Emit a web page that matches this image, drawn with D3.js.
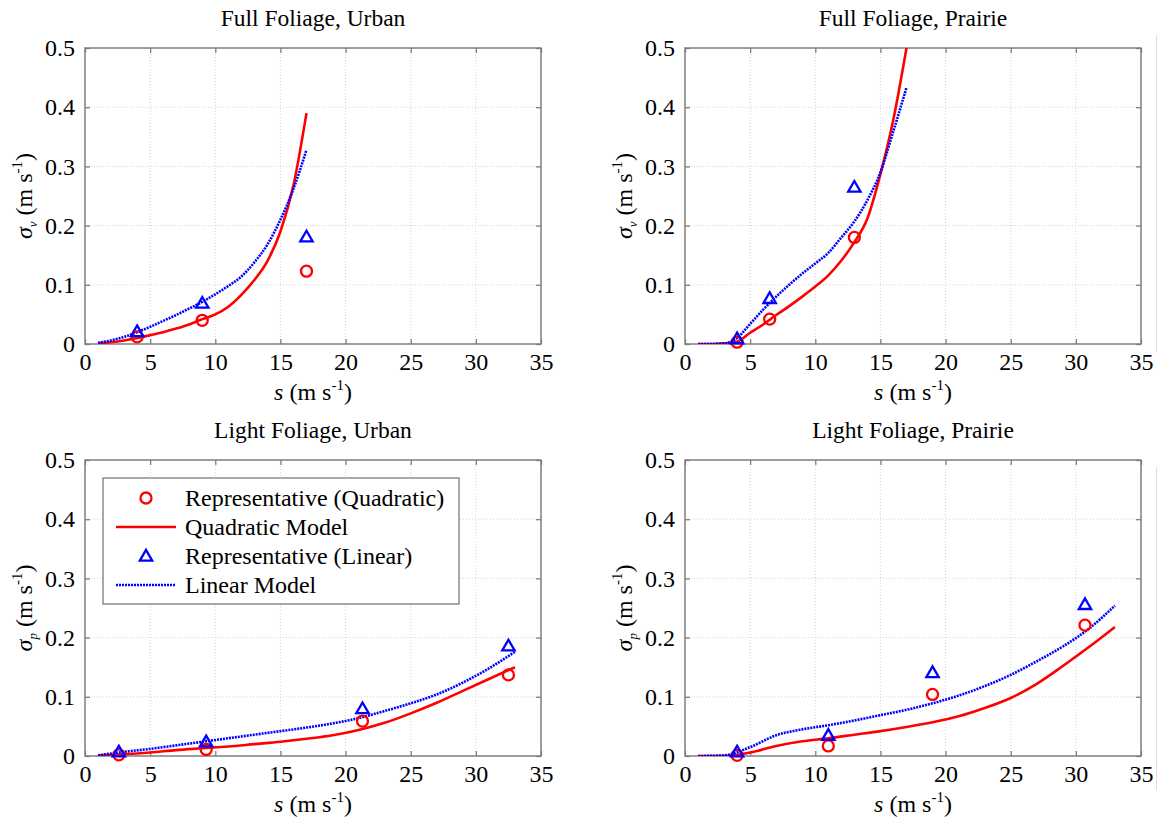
<!DOCTYPE html>
<html>
<head>
<meta charset="utf-8">
<script src="https://cdn.jsdelivr.net/npm/d3@7"></script>
<style>
  body { margin: 0; background: #fff; }
  svg text { font-family: "Liberation Serif", "DejaVu Serif", serif; fill: #000; }
</style>
</head>
<body>
<div id="chart"></div>
<script>
// model curves, wind speed s (m s-1)
const sFull = [1, 2, 3, 4, 5, 6, 7, 8, 9, 10, 11, 12, 13, 14, 15, 16, 17];
const sLight = [1, 3, 5, 7, 9, 11, 13, 15, 17, 19, 21, 23, 25, 27, 29, 31, 33];

const ffuQuad = [0.001, 0.003, 0.006, 0.010, 0.015, 0.020, 0.026, 0.033, 0.042, 0.050, 0.063, 0.083, 0.108, 0.140, 0.190, 0.268, 0.390];
const ffuLin = [0.002, 0.006, 0.012, 0.020, 0.029, 0.039, 0.049, 0.060, 0.071, 0.084, 0.098, 0.114, 0.138, 0.168, 0.210, 0.262, 0.328];
const ffpQuad = [0, 0, 0.001, 0.004, 0.019, 0.033, 0.049, 0.064, 0.080, 0.097, 0.116, 0.141, 0.172, 0.212, 0.287, 0.380, 0.500];
const ffpLin = [0, 0, 0.001, 0.010, 0.034, 0.058, 0.080, 0.100, 0.119, 0.136, 0.154, 0.180, 0.207, 0.243, 0.290, 0.360, 0.433];
const lfuQuad = [0.001, 0.003, 0.006, 0.010, 0.013, 0.016, 0.020, 0.024, 0.029, 0.035, 0.044, 0.056, 0.072, 0.090, 0.110, 0.130, 0.150];
const lfuLin = [0.001, 0.007, 0.012, 0.018, 0.024, 0.030, 0.036, 0.042, 0.048, 0.055, 0.064, 0.076, 0.089, 0.104, 0.124, 0.148, 0.176];
const lfpQuad = [0, 0, 0.006, 0.017, 0.025, 0.030, 0.036, 0.042, 0.049, 0.057, 0.067, 0.081, 0.098, 0.122, 0.152, 0.184, 0.218];
const lfpLin = [0, 0.001, 0.015, 0.035, 0.045, 0.052, 0.060, 0.069, 0.078, 0.089, 0.102, 0.118, 0.137, 0.160, 0.185, 0.215, 0.254];

// representative points
const ffuPtS = [4, 9, 17];
const ffuQuadPt = [0.012, 0.040, 0.123];
const ffuLinPt = [0.021, 0.069, 0.181];
const ffpPtS = [4, 6.5, 13];
const ffpQuadPt = [0.003, 0.042, 0.180];
const ffpLinPt = [0.009, 0.077, 0.265];
const lfuPtS = [2.6, 9.3, 21.3, 32.5];
const lfuQuadPt = [0.002, 0.011, 0.059, 0.137];
const lfuLinPt = [0.007, 0.024, 0.080, 0.186];
const lfpPtS = [4, 11, 19, 30.7];
const lfpQuadPt = [0.001, 0.017, 0.104, 0.221];
const lfpLinPt = [0.007, 0.035, 0.141, 0.256];

const xTicks = [0, 5, 10, 15, 20, 25, 30, 35];
const yTicks = [0, 0.1, 0.2, 0.3, 0.4, 0.5];
const legendLabels = ['Representative (Quadratic)', 'Quadratic Model', 'Representative (Linear)', 'Linear Model'];

const panels = [
  { title: 'Full Foliage, Urban', sub: 'v', x0: 85, y0: 48, s: sFull, quad: ffuQuad, lin: ffuLin, ps: ffuPtS, pq: ffuQuadPt, pl: ffuLinPt },
  { title: 'Full Foliage, Prairie', sub: 'v', x0: 685, y0: 48, s: sFull, quad: ffpQuad, lin: ffpLin, ps: ffpPtS, pq: ffpQuadPt, pl: ffpLinPt },
  { title: 'Light Foliage, Urban', sub: 'p', x0: 85, y0: 460, s: sLight, quad: lfuQuad, lin: lfuLin, ps: lfuPtS, pq: lfuQuadPt, pl: lfuLinPt, legend: true },
  { title: 'Light Foliage, Prairie', sub: 'p', x0: 685, y0: 460, s: sLight, quad: lfpQuad, lin: lfpLin, ps: lfpPtS, pq: lfpQuadPt, pl: lfpLinPt }
];

const W = 1158, H = 819;
const pw = 456, ph = 296;
const red = '#ff0000', blue = '#0000ff', axisCol = '#7f7f7f';
const serif = '"Liberation Serif", "DejaVu Serif", serif';

const svg = d3.select('#chart').append('svg').attr('width', W).attr('height', H);

// faint edge line at the right border
[[35, 352], [467, 790]].forEach(([a, b]) => {
  svg.append('line').attr('x1', 1156.5).attr('x2', 1156.5).attr('y1', a).attr('y2', b)
    .attr('stroke', '#ecdada').attr('stroke-width', 1);
});

const tri = d3.symbol().type(d3.symbolTriangle).size(66);

panels.forEach((p, i) => {
  const x = d3.scaleLinear().domain([0, 35]).range([0, pw]);
  const y = d3.scaleLinear().domain([0, 0.5]).range([ph, 0]);
  const g = svg.append('g').attr('transform', `translate(${p.x0},${p.y0})`);

  g.append('clipPath').attr('id', 'clip' + i).append('rect').attr('width', pw).attr('height', ph);

  // grid
  g.append('g').selectAll('line').data(xTicks.slice(1, -1)).join('line')
    .attr('x1', d => x(d)).attr('x2', d => x(d)).attr('y1', 0).attr('y2', ph)
    .attr('stroke', '#d4d4d4').attr('stroke-dasharray', '1,2').attr('stroke-width', 1);
  g.append('g').selectAll('line').data(yTicks.slice(1, -1)).join('line')
    .attr('y1', d => y(d)).attr('y2', d => y(d)).attr('x1', 0).attr('x2', pw)
    .attr('stroke', '#d4d4d4').attr('stroke-dasharray', '1,2').attr('stroke-width', 1);

  // axes (inward ticks on all sides)
  const styleAxis = ax => {
    ax.attr('font-family', serif).attr('font-size', 24);
    ax.select('.domain').remove();
    ax.selectAll('.tick line').attr('stroke', axisCol).attr('stroke-width', 1.3);
    ax.selectAll('.tick text').attr('fill', '#000');
  };
  g.append('g').attr('transform', `translate(0,${ph})`)
    .call(d3.axisBottom(x).tickValues(xTicks).tickSize(-5).tickPadding(9).tickFormat(d3.format('d')))
    .call(styleAxis);
  g.append('g')
    .call(d3.axisTop(x).tickValues(xTicks).tickSize(-5).tickFormat(''))
    .call(styleAxis);
  g.append('g')
    .call(d3.axisLeft(y).tickValues(yTicks).tickSize(-5).tickPadding(10).tickFormat(d => d === 0 ? '0' : d3.format('.1f')(d)))
    .call(styleAxis);
  g.append('g').attr('transform', `translate(${pw},0)`)
    .call(d3.axisRight(y).tickValues(yTicks).tickSize(-5).tickFormat(''))
    .call(styleAxis);
  g.append('rect').attr('width', pw).attr('height', ph)
    .attr('fill', 'none').attr('stroke', axisCol).attr('stroke-width', 1.5);

  const plot = g.append('g').attr('clip-path', `url(#clip${i})`);
  const line = d3.line().curve(d3.curveMonotoneX).x(d => x(d[0])).y(d => y(d[1]));

  plot.append('path').datum(p.s.map((s, k) => [s, p.quad[k]]))
    .attr('d', line).attr('fill', 'none').attr('stroke', red).attr('stroke-width', 2.6);
  plot.append('path').datum(p.s.map((s, k) => [s, p.lin[k]]))
    .attr('d', line).attr('fill', 'none').attr('stroke', blue).attr('stroke-width', 2.6)
    .attr('stroke-dasharray', '2,1');

  g.append('g').selectAll('circle').data(p.ps.map((s, k) => [s, p.pq[k]])).join('circle')
    .attr('cx', d => x(d[0])).attr('cy', d => y(d[1])).attr('r', 5.5)
    .attr('fill', 'none').attr('stroke', red).attr('stroke-width', 2.3);
  g.append('g').selectAll('path').data(p.ps.map((s, k) => [s, p.pl[k]])).join('path')
    .attr('d', tri).attr('transform', d => `translate(${x(d[0])},${y(d[1]) + 1})`)
    .attr('fill', 'none').attr('stroke', blue).attr('stroke-width', 2.3);

  // titles and labels
  g.append('text').attr('x', pw / 2).attr('y', -22).attr('text-anchor', 'middle')
    .style('font-size', '23.5px').text(p.title);

  const xl = g.append('text').attr('x', pw / 2).attr('y', ph + 56).attr('text-anchor', 'middle').style('font-size', '24px');
  xl.append('tspan').attr('font-style', 'italic').text('s');
  xl.append('tspan').text(' (m s');
  xl.append('tspan').attr('dy', -10).style('font-size', '15px').text('-1');
  xl.append('tspan').attr('dy', 10).text(')');

  const yl = g.append('text').attr('transform', `translate(-53,${ph / 2}) rotate(-90)`)
    .attr('text-anchor', 'middle').style('font-size', '24px');
  yl.append('tspan').attr('font-style', 'italic').text('σ');
  yl.append('tspan').attr('font-style', 'italic').attr('dy', 5).style('font-size', '13px').text(p.sub);
  yl.append('tspan').attr('dy', -5).text(' (m s');
  yl.append('tspan').attr('dy', -10).style('font-size', '15px').text('-1');
  yl.append('tspan').attr('dy', 10).text(')');

  if (p.legend) {
    const lg = g.append('g').attr('transform', 'translate(18,18)');
    lg.append('rect').attr('width', 356).attr('height', 126)
      .attr('fill', '#fff').attr('stroke', '#555').attr('stroke-width', 1);
    legendLabels.forEach((lab, k) => {
      const cy = 20 + k * 29;
      if (k === 0) {
        lg.append('circle').attr('cx', 43).attr('cy', cy).attr('r', 5.5)
          .attr('fill', 'none').attr('stroke', red).attr('stroke-width', 2.3);
      } else if (k === 1) {
        lg.append('line').attr('x1', 13).attr('x2', 73).attr('y1', cy).attr('y2', cy)
          .attr('stroke', red).attr('stroke-width', 2.6);
      } else if (k === 2) {
        lg.append('path').attr('d', tri).attr('transform', `translate(43,${cy + 1})`)
          .attr('fill', 'none').attr('stroke', blue).attr('stroke-width', 2.3);
      } else {
        lg.append('line').attr('x1', 13).attr('x2', 73).attr('y1', cy).attr('y2', cy)
          .attr('stroke', blue).attr('stroke-width', 2.6).attr('stroke-dasharray', '2,1');
      }
      lg.append('text').attr('x', 82).attr('y', cy + 8).style('font-size', '24px').text(lab);
    });
  }
});
</script>
</body>
</html>
